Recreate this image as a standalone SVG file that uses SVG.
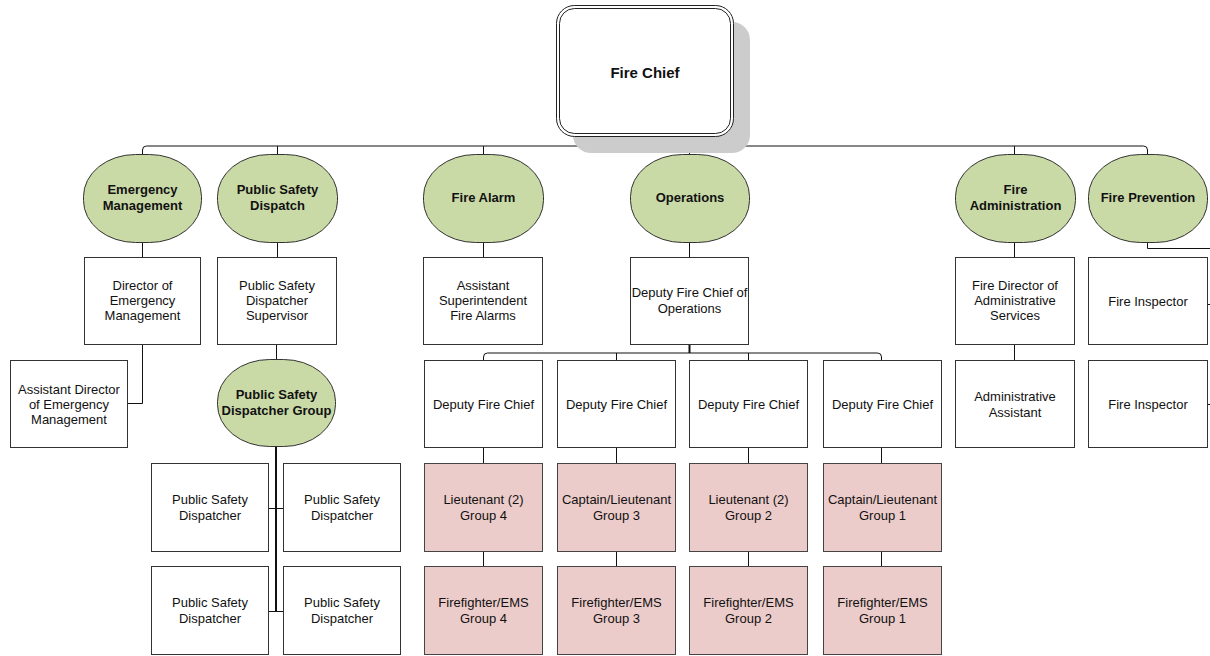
<svg xmlns="http://www.w3.org/2000/svg" width="1210" height="656" viewBox="0 0 1210 656">
<style>
text{font-family:"Liberation Sans",Arial,sans-serif;font-size:13px;fill:#111;text-anchor:middle}
.b{font-weight:bold}
.box{fill:#fff;stroke:#333;stroke-width:1}
.pink{fill:#ecccca;stroke:#444;stroke-width:1}
.grn{fill:#cadaa7;stroke:#333;stroke-width:1}
.c{fill:none;stroke:#111;stroke-width:1}
.ct{fill:none;stroke:#111;stroke-width:2}
</style>
<g id="connectors">
<path class="c" d="M645.5,137 V141 Q645.5,143 643.5,144.5 M645.5,141 Q645.5,143 647.5,144.5"/>
<path class="c" d="M142.5,154 V150 Q142.5,146 146.5,146 H1143.5 Q1147.5,146 1147.5,150 V154"/>
<path class="c" d="M277.5,146 V154 M483.5,146 V154 M689.5,146 V154 M1014.5,146 V154"/>
<path class="c" d="M142.5,242 V257 M277.5,242 V257 M483.5,242 V257 M689.5,242 V257 M1014.5,242 V257"/>
<path class="c" d="M1147.5,242 V248.5 H1210"/>
<path class="c" d="M1208,304.5 H1210 M1208,404.5 H1210"/>
<path class="c" d="M142.5,344 V403.5 H128"/>
<path class="c" d="M276.5,344 V359"/>
<path class="ct" d="M276,446 V611"/>
<path class="c" d="M268,508.5 H283 M268,611.5 H283"/>
<path class="ct" d="M689.5,344 V353"/>
<path class="c" d="M483.5,360 V357 Q483.5,353 487.5,353 H877.5 Q881.5,353 881.5,357 V360 M616.5,353 V360 M748.5,353 V360"/>
<path class="c" d="M1014.5,345 V360"/>
<path class="c" d="M483.5,448 V463 M616.5,448 V463 M748.5,448 V463 M881.5,448 V463"/>
<path class="c" d="M483.5,552 V567 M616.5,552 V567 M748.5,552 V567 M881.5,552 V567"/>
</g>
<g id="fire-chief">
<rect x="573" y="22" width="177" height="131" rx="18" fill="#cccccc"/>
<rect x="556.5" y="5.5" width="177" height="131" rx="18" fill="#fff" stroke="#222"/>
<rect x="559.5" y="8.5" width="171" height="125" rx="15" fill="#fff" stroke="#222"/>
<text class="b" x="645" y="78" style="font-size:15px">Fire Chief</text>
</g>
<g id="emergency-management">
<rect class="grn" x="83.5" y="154.5" width="118" height="88" rx="52" ry="42"/>
<text class="b" x="142.5" y="194">Emergency</text><text class="b" x="142.5" y="210">Management</text>
</g>
<g id="public-safety-dispatch">
<rect class="grn" x="217.5" y="154.5" width="120" height="88" rx="52" ry="42"/>
<text class="b" x="277.5" y="194">Public Safety</text><text class="b" x="277.5" y="210">Dispatch</text>
</g>
<g id="fire-alarm">
<rect class="grn" x="423.5" y="154.5" width="120" height="88" rx="52" ry="42"/>
<text class="b" x="483.5" y="202">Fire Alarm</text>
</g>
<g id="operations">
<rect class="grn" x="630.5" y="154.5" width="119" height="88" rx="52" ry="42"/>
<text class="b" x="690" y="202">Operations</text>
</g>
<g id="fire-administration">
<rect class="grn" x="955.5" y="154.5" width="120" height="88" rx="52" ry="42"/>
<text class="b" x="1015.5" y="194">Fire</text><text class="b" x="1015.5" y="210">Administration</text>
</g>
<g id="fire-prevention">
<rect class="grn" x="1088.5" y="154.5" width="119" height="88" rx="52" ry="42"/>
<text class="b" x="1148" y="202">Fire Prevention</text>
</g>
<g id="director-em">
<rect class="box" x="84.5" y="257.5" width="116" height="87"/>
<text x="142.5" y="290">Director of</text><text x="142.5" y="305">Emergency</text><text x="142.5" y="320">Management</text>
</g>
<g id="psd-supervisor">
<rect class="box" x="217.5" y="257.5" width="119" height="87"/>
<text x="277" y="290">Public Safety</text><text x="277" y="305">Dispatcher</text><text x="277" y="320">Supervisor</text>
</g>
<g id="asst-superintendent">
<rect class="box" x="423.5" y="257.5" width="119" height="87"/>
<text x="483" y="290">Assistant</text><text x="483" y="305">Superintendent</text><text x="483" y="320">Fire Alarms</text>
</g>
<g id="deputy-ops">
<rect class="box" x="630.5" y="257.5" width="118" height="87"/>
<text x="689.5" y="297">Deputy Fire Chief of</text><text x="689.5" y="313">Operations</text>
</g>
<g id="fire-director-admin">
<rect class="box" x="955.5" y="257.5" width="119" height="87"/>
<text x="1015" y="290">Fire Director of</text><text x="1015" y="305">Administrative</text><text x="1015" y="320">Services</text>
</g>
<g id="fire-inspector-1">
<rect class="box" x="1088.5" y="257.5" width="119" height="87"/>
<text x="1148" y="306">Fire Inspector</text>
</g>
<g id="asst-director-em">
<rect class="box" x="10.5" y="360.5" width="117" height="87"/>
<text x="69" y="394">Assistant Director</text><text x="69" y="409">of Emergency</text><text x="69" y="424">Management</text>
</g>
<g id="psd-group">
<rect class="grn" x="217.5" y="359.5" width="118" height="87" rx="52" ry="42"/>
<text class="b" x="276.5" y="399">Public Safety</text><text class="b" x="276.5" y="415">Dispatcher Group</text>
</g>
<g id="deputy-1">
<rect class="box" x="424.5" y="360.5" width="118" height="87"/>
<text x="483.5" y="409">Deputy Fire Chief</text>
</g>
<g id="deputy-2">
<rect class="box" x="557.5" y="360.5" width="118" height="87"/>
<text x="616.5" y="409">Deputy Fire Chief</text>
</g>
<g id="deputy-3">
<rect class="box" x="689.5" y="360.5" width="118" height="87"/>
<text x="748.5" y="409">Deputy Fire Chief</text>
</g>
<g id="deputy-4">
<rect class="box" x="823.5" y="360.5" width="118" height="87"/>
<text x="882.5" y="409">Deputy Fire Chief</text>
</g>
<g id="admin-assistant">
<rect class="box" x="955.5" y="360.5" width="119" height="87"/>
<text x="1015" y="401">Administrative</text><text x="1015" y="417">Assistant</text>
</g>
<g id="fire-inspector-2">
<rect class="box" x="1088.5" y="360.5" width="119" height="87"/>
<text x="1148" y="409">Fire Inspector</text>
</g>
<g id="dispatcher-1">
<rect class="box" x="151.5" y="463.5" width="117" height="88"/>
<text x="210" y="504">Public Safety</text><text x="210" y="520">Dispatcher</text>
</g>
<g id="dispatcher-2">
<rect class="box" x="283.5" y="463.5" width="117" height="88"/>
<text x="342" y="504">Public Safety</text><text x="342" y="520">Dispatcher</text>
</g>
<g id="dispatcher-3">
<rect class="box" x="151.5" y="566.5" width="117" height="88"/>
<text x="210" y="607">Public Safety</text><text x="210" y="623">Dispatcher</text>
</g>
<g id="dispatcher-4">
<rect class="box" x="283.5" y="566.5" width="117" height="88"/>
<text x="342" y="607">Public Safety</text><text x="342" y="623">Dispatcher</text>
</g>
<g id="lt-group-4">
<rect class="pink" x="424.5" y="463.5" width="118" height="88"/>
<text x="483.5" y="504">Lieutenant (2)</text><text x="483.5" y="520">Group 4</text>
</g>
<g id="capt-group-3">
<rect class="pink" x="557.5" y="463.5" width="118" height="88"/>
<text x="616.5" y="504">Captain/Lieutenant</text><text x="616.5" y="520">Group 3</text>
</g>
<g id="lt-group-2">
<rect class="pink" x="689.5" y="463.5" width="118" height="88"/>
<text x="748.5" y="504">Lieutenant (2)</text><text x="748.5" y="520">Group 2</text>
</g>
<g id="capt-group-1">
<rect class="pink" x="823.5" y="463.5" width="118" height="88"/>
<text x="882.5" y="504">Captain/Lieutenant</text><text x="882.5" y="520">Group 1</text>
</g>
<g id="ff-group-4">
<rect class="pink" x="424.5" y="566.5" width="118" height="88"/>
<text x="483.5" y="607">Firefighter/EMS</text><text x="483.5" y="623">Group 4</text>
</g>
<g id="ff-group-3">
<rect class="pink" x="557.5" y="566.5" width="118" height="88"/>
<text x="616.5" y="607">Firefighter/EMS</text><text x="616.5" y="623">Group 3</text>
</g>
<g id="ff-group-2">
<rect class="pink" x="689.5" y="566.5" width="118" height="88"/>
<text x="748.5" y="607">Firefighter/EMS</text><text x="748.5" y="623">Group 2</text>
</g>
<g id="ff-group-1">
<rect class="pink" x="823.5" y="566.5" width="118" height="88"/>
<text x="882.5" y="607">Firefighter/EMS</text><text x="882.5" y="623">Group 1</text>
</g>
</svg>
